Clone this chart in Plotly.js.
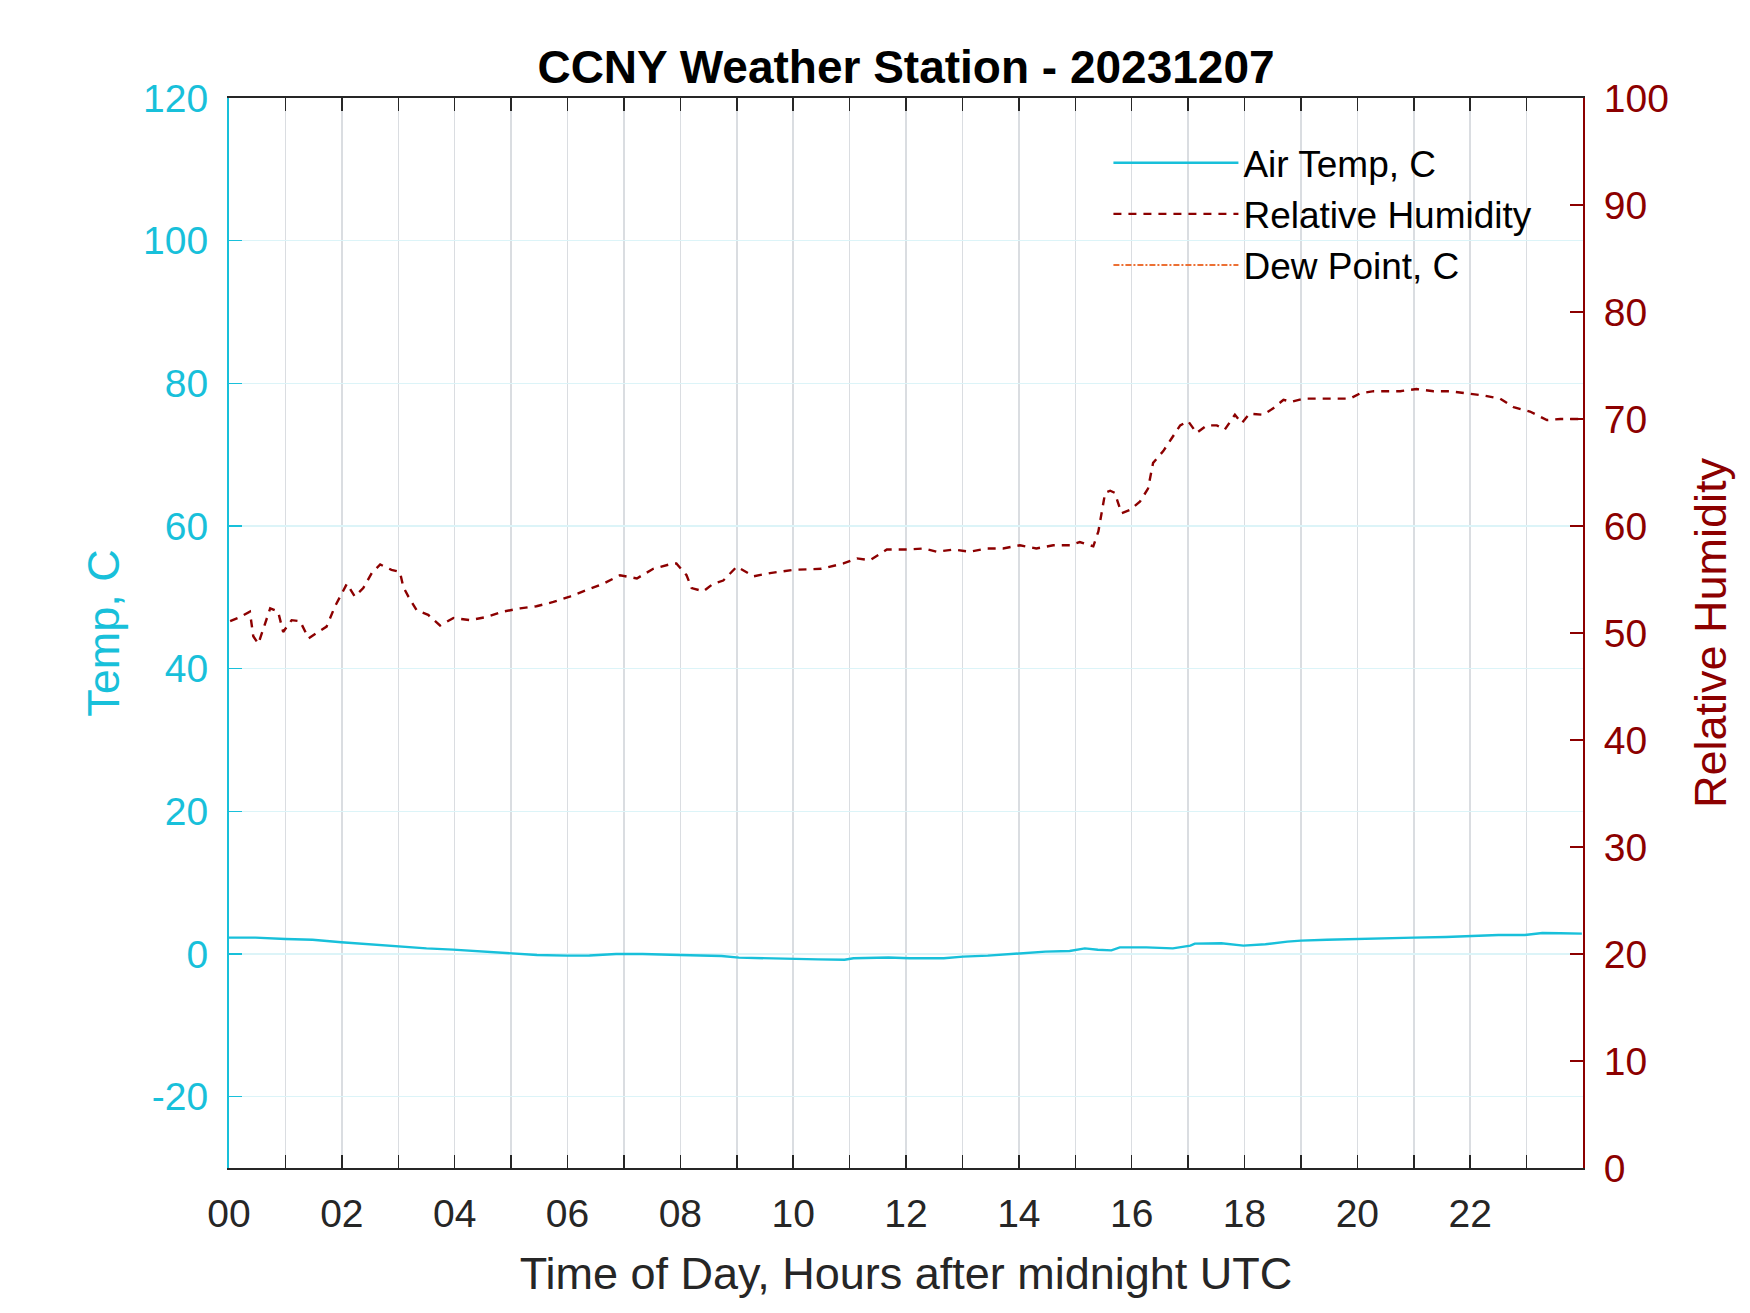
<!DOCTYPE html>
<html>
<head>
<meta charset="utf-8">
<script src="https://cdn.plot.ly/plotly-3.0.1.min.js"></script>
<style>html,body{margin:0;padding:0;background:#fff;}</style>
</head>
<body>
<div id="chart" style="width:1750px;height:1313px;"></div>
<script>
// Hours after midnight UTC
const tempHours = [0,0.47,1.0,1.48,1.99,2.49,2.99,3.5,3.97,4.52,4.99,5.46,5.99,6.39,6.86,7.33,7.99,8.42,8.73,9.04,9.5,9.97,10.44,10.91,11.07,11.69,12.06,12.67,13.01,13.45,14.01,14.47,14.9,15.17,15.4,15.64,15.79,16.26,16.73,17.04,17.12,17.59,17.98,18.37,18.76,19.0,19.46,20.0,20.47,21.0,21.57,22.03,22.5,22.97,23.28,23.6,23.98];
const airTemp = [2.29,2.29,2.1,2.0,1.64,1.36,1.03,0.79,0.61,0.33,0.05,-0.14,-0.23,-0.2,0,0,-0.14,-0.2,-0.28,-0.51,-0.6,-0.75,-0.75,-0.8,-0.6,-0.5,-0.6,-0.6,-0.37,-0.23,0.05,0.33,0.42,0.79,0.6,0.51,0.93,0.93,0.79,1.17,1.45,1.5,1.17,1.36,1.73,1.87,2.0,2.1,2.29,2.29,2.38,2.57,2.66,2.66,2.94,2.9,2.85];

const rhHours = [0.02,0.2,0.37,0.43,0.52,0.58,0.73,0.87,0.96,1.11,1.26,1.41,1.55,1.73,1.88,2.0,2.09,2.23,2.38,2.53,2.68,2.88,3.03,3.09,3.18,3.33,3.53,3.74,3.98,4.27,4.57,4.86,5.16,5.45,5.75,6.04,6.34,6.63,6.93,7.23,7.52,7.87,7.93,8.11,8.2,8.41,8.58,8.76,9.0,9.3,9.59,10.0,10.5,10.89,11.13,11.36,11.66,12.02,12.31,12.54,12.84,13.13,13.43,13.72,14.02,14.31,14.61,14.91,15.08,15.32,15.41,15.47,15.53,15.62,15.7,15.82,15.97,16.15,16.29,16.38,16.56,16.71,16.86,17.0,17.15,17.33,17.51,17.65,17.83,17.95,18.09,18.33,18.51,18.69,18.83,19.04,19.28,19.57,19.87,20.05,20.29,20.52,20.76,21.05,21.35,21.64,21.94,22.24,22.53,22.77,23.06,23.36,23.6,23.98];
const relHumidity = [51.1,51.5,52.0,49.7,49.0,50.0,52.3,52.0,50.1,51.2,51.1,49.5,50.0,50.6,52.5,53.7,54.6,53.4,54.2,55.6,56.4,55.9,55.7,54.3,53.4,52.1,51.7,50.7,51.4,51.2,51.5,52.0,52.3,52.5,52.9,53.4,54.0,54.6,55.4,55.1,56.0,56.5,56.5,55.4,54.2,53.9,54.6,54.9,56.2,55.3,55.6,55.9,56.0,56.5,56.97,56.8,57.8,57.8,57.9,57.6,57.8,57.6,57.9,57.9,58.2,57.9,58.2,58.2,58.5,58.1,59.5,61.2,63.1,63.3,63.1,61.2,61.5,62.3,63.5,65.9,67.0,68.2,69.4,69.8,68.7,69.4,69.4,69.0,70.4,69.6,70.5,70.4,71.0,71.8,71.6,71.9,71.9,71.9,71.9,72.4,72.6,72.6,72.6,72.8,72.6,72.6,72.4,72.2,71.9,71.1,70.7,69.9,70.0,70.0];

// Dew point: no values are drawn in the reference (missing data)
const dewHours = [0, 23.98];
const dewPoint = [null, null];

const xTickVals = [0,2,4,6,8,10,12,14,16,18,20,22];
const xTickText = ['00','02','04','06','08','10','12','14','16','18','20','22'];
const tempTickVals = [-20,0,20,40,60,80,100,120];
const tempTickText = ['-20','0','20','40','60','80','100','120'];

const CYAN = 'rgb(24,192,218)';
const DRED = 'rgb(140,0,0)';
const ORANGE = 'rgb(236,112,52)';
const FONT = 'Arial, "Liberation Sans", Helvetica, sans-serif';
const XGRID = '#dadde1';
const YGRID = '#dcf4f8';

const traces = [
  {x: tempHours, y: airTemp, name: 'Air Temp, C', type: 'scatter', mode: 'lines',
   line: {color: CYAN, width: 2.4}, yaxis: 'y'},
  {x: rhHours, y: relHumidity, name: 'Relative Humidity', type: 'scatter', mode: 'lines',
   line: {color: DRED, width: 2.4, dash: '8px,7px'}, yaxis: 'y2'},
  {x: dewHours, y: dewPoint, name: 'Dew Point, C', type: 'scatter', mode: 'lines',
   line: {color: ORANGE, width: 2, dash: '6px,2px,2px,2px'}, yaxis: 'y', connectgaps: false}
];

const layout = {
  width: 1750, height: 1313,
  paper_bgcolor: '#fff', plot_bgcolor: '#fff',
  margin: {l: 229, r: 167, t: 98, b: 145, pad: 0},
  font: {family: FONT, size: 38, color: '#262626'},
  showlegend: true,
  title: {text: '<b>CCNY Weather Station - 20231207</b>', font: {family: FONT, size: 46, color: '#000'},
          x: 0.5, xref: 'paper', xanchor: 'center', y: 0.949, yref: 'container', yanchor: 'middle'},
  xaxis: {
    range: [0, 24], tickvals: xTickVals, ticktext: xTickText,
    ticks: 'inside', ticklen: 13, tickwidth: 1.5, tickcolor: '#262626',
    showline: true, linecolor: '#262626', linewidth: 2, mirror: 'ticks',
    showgrid: true, gridcolor: XGRID, gridwidth: 1.5,
    minor: {dtick: 1, tick0: 0, ticks: 'inside', ticklen: 13, tickwidth: 1.5, tickcolor: '#262626',
            showgrid: true, gridcolor: XGRID, gridwidth: 1.5},
    tickfont: {size: 39, color: '#262626'},
    ticklabelstandoff: 10,
    zeroline: false, automargin: false,
    title: {text: 'Time of Day, Hours after midnight UTC', font: {size: 45, color: '#262626'}, standoff: 24}
  },
  yaxis: {
    range: [-30, 120], tickvals: tempTickVals, ticktext: tempTickText,
    ticks: 'inside', ticklen: 13, tickwidth: 1.5, tickcolor: CYAN,
    showline: true, linecolor: CYAN, linewidth: 2,
    showgrid: true, gridcolor: YGRID, gridwidth: 1.5,
    tickfont: {size: 39, color: CYAN}, zeroline: false, automargin: false,
    ticklabelstandoff: 11,
    title: {text: 'Temp, C', font: {size: 45, color: CYAN}, standoff: 9}
  },
  yaxis2: {
    range: [0, 100], dtick: 10, tick0: 0, overlaying: 'y', side: 'right',
    ticks: 'inside', ticklen: 13, tickwidth: 1.5, tickcolor: DRED,
    showline: true, linecolor: DRED, linewidth: 2,
    showgrid: false, zeroline: false, automargin: false,
    tickfont: {size: 39, color: DRED},
    ticklabelstandoff: 11,
    title: {text: 'Relative Humidity', font: {size: 45, color: DRED}, standoff: 27}
  },
  legend: {
    x: 0.6495, y: 0.968, xanchor: 'left', yanchor: 'top',
    bgcolor: 'rgba(0,0,0,0)', borderwidth: 0,
    font: {size: 37, color: '#000'}, itemwidth: 125, tracegroupgap: 0
  }
};

Plotly.newPlot('chart', traces, layout, {staticPlot: true, displayModeBar: false}).then(function(gd){
  // lengthen the legend sample lines to match the reference
  document.querySelectorAll('.legend .legendlines path').forEach(function(p){
    p.setAttribute('d', 'M5,0h125');
  });
});
</script>
</body>
</html>
